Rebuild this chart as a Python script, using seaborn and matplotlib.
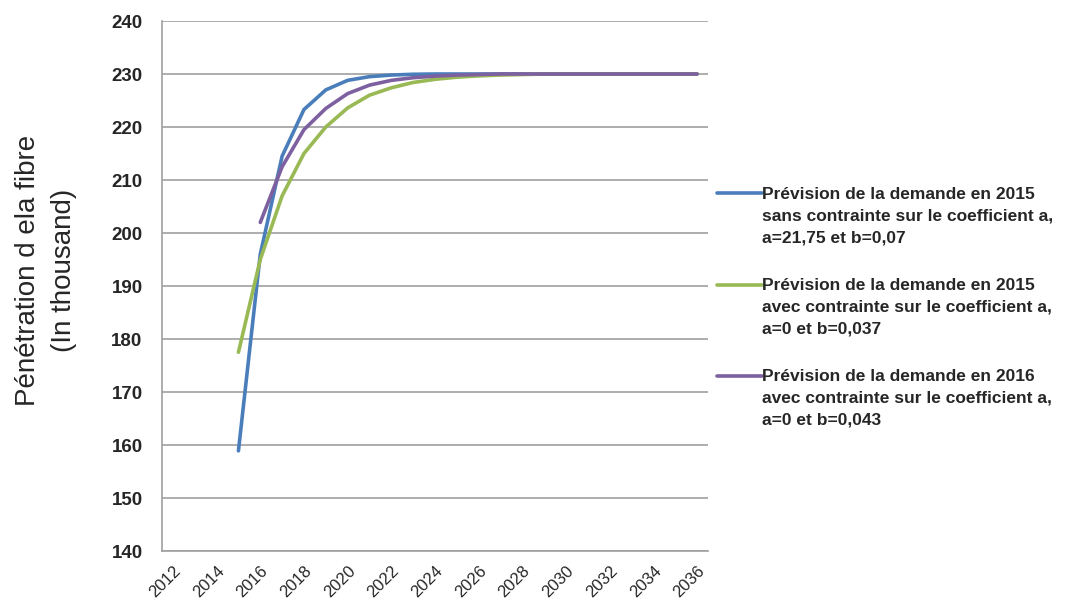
import matplotlib
matplotlib.use("Agg")
import matplotlib.pyplot as plt
import seaborn as sns
import pandas as pd
import numpy as np
from matplotlib.legend_handler import HandlerLine2D

years_blue = [2015, 2016, 2017, 2018, 2019, 2020, 2021, 2022, 2023, 2024, 2025, 2026, 2027, 2028,
              2029, 2030, 2031, 2032, 2033, 2034, 2035, 2036]
values_blue = [158.9, 196.0, 214.5, 223.3, 227.0, 228.8, 229.5, 229.8, 229.95, 230.0, 230.0, 230.0, 230.0, 230.0,
               230.0, 230.0, 230.0, 230.0, 230.0, 230.0, 230.0, 230.0]
years_green = [2015, 2016, 2017, 2018, 2019, 2020, 2021, 2022, 2023, 2024, 2025, 2026, 2027, 2028,
               2029, 2030, 2031, 2032, 2033, 2034, 2035, 2036]
values_green = [177.5, 195.0, 207.0, 215.0, 220.0, 223.6, 226.0, 227.4, 228.4, 229.0, 229.4, 229.65, 229.8, 229.9,
                230.0, 230.0, 230.0, 230.0, 230.0, 230.0, 230.0, 230.0]
years_purple = [2016, 2017, 2018, 2019, 2020, 2021, 2022, 2023, 2024, 2025, 2026, 2027, 2028,
                2029, 2030, 2031, 2032, 2033, 2034, 2035, 2036]
values_purple = [202.0, 212.5, 219.5, 223.5, 226.3, 227.9, 228.8, 229.3, 229.6, 229.8, 229.9, 230.0, 230.0,
                 230.0, 230.0, 230.0, 230.0, 230.0, 230.0, 230.0, 230.0]

series_labels = [
    "Prévision de la demande en 2015\nsans contrainte sur le coefficient a,\na=21,75 et b=0,07",
    "Prévision de la demande en 2015\navec contrainte sur le coefficient a,\na=0 et b=0,037",
    "Prévision de la demande en 2016\navec contrainte sur le coefficient a,\na=0 et b=0,043",
]
colors = ["#4A7EBB", "#98B954", "#7D60A0"]
x_ticks = list(range(2012, 2037, 2))
y_ticks = list(range(140, 241, 10))
y_label = "Pénétration d ela fibre\n(In thousand)"

df = pd.concat([
    pd.DataFrame({"year": years_blue, "value": values_blue, "serie": series_labels[0]}),
    pd.DataFrame({"year": years_green, "value": values_green, "serie": series_labels[1]}),
    pd.DataFrame({"year": years_purple, "value": values_purple, "serie": series_labels[2]}),
])

sns.set_theme(style="white")
plt.rcParams["font.family"] = ["Liberation Sans", "DejaVu Sans"]

fig = plt.figure(figsize=(10.67, 6.09), dpi=100)
ax = fig.add_axes([162 / 1067, 1 - 551 / 609, 546 / 1067, 530 / 609])

sns.lineplot(data=df, x="year", y="value", hue="serie", palette=colors,
             linewidth=2.6, ax=ax, legend=True)

ax.set_xlim(2011.5, 2036.5)
ax.set_ylim(140, 240)
ax.set_yticks(y_ticks)
ax.set_yticklabels([str(v) for v in y_ticks], fontweight="bold", fontsize=13.5)
ax.set_xticks(x_ticks)
ax.set_xticklabels([str(v) for v in x_ticks], rotation=45, ha="right",
                   rotation_mode="anchor", fontsize=12)
ax.tick_params(axis="both", length=0)
ax.tick_params(axis="y", pad=14)
ax.tick_params(axis="x", pad=9)
ax.grid(axis="y", color="#A0A0A0", linewidth=1.2)
ax.set_axisbelow(True)
for s in ["top", "right"]:
    ax.spines[s].set_visible(False)
for s in ["left", "bottom"]:
    ax.spines[s].set_color("#A0A0A0")
    ax.spines[s].set_linewidth(1.2)
ax.set_xlabel("")
ax.set_ylabel(y_label, fontsize=20, linespacing=1.5)
ax.yaxis.set_label_coords(-0.156, 0.53)

LINE_PITCH_PT = 16.2


class TopHandler(HandlerLine2D):
    def create_artists(self, legend, orig_handle, xdescent, ydescent, width, height, fontsize, trans):
        artists = super().create_artists(legend, orig_handle, xdescent, ydescent, width, height,
                                         fontsize, trans)
        for a in artists:
            y = np.asarray(a.get_ydata(), dtype=float)
            a.set_ydata(y + LINE_PITCH_PT)
        return artists


handles, labels = ax.get_legend_handles_labels()
ax.get_legend().remove()
leg = fig.legend(handles, labels, loc="upper left", bbox_to_anchor=(710 / 1067, 1 - 180 / 609),
                 frameon=False, prop={"weight": "bold", "size": 12.5}, handlelength=2.6,
                 handletextpad=0.0, labelspacing=1.9, borderaxespad=0,
                 handler_map={h: TopHandler() for h in handles})
for t in leg.get_texts():
    t.set_linespacing(1.55)

fig.savefig("out.png", dpi=100, facecolor="white")
